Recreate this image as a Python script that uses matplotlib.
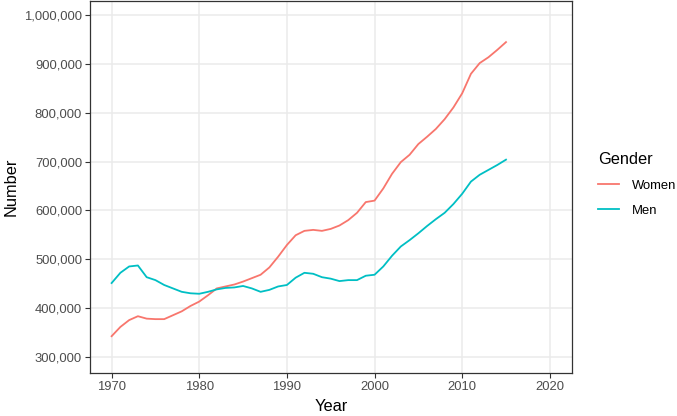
import matplotlib.pyplot as plt
from matplotlib.ticker import FuncFormatter

plt.rcParams['font.family'] = ['Liberation Sans', 'DejaVu Sans']

years = list(range(1970, 2016))
women = [342, 361, 375, 383, 378, 377, 377, 385, 393, 404,
         413, 426, 440, 444, 448, 454, 461, 468, 483, 505,
         529, 549, 558, 560, 558, 562, 569, 580, 595, 617,
         620, 645, 675, 699, 714, 736, 751, 767, 787, 811,
         840, 880, 902, 914, 929, 945]
men = [451, 472, 485, 487, 463, 457, 447, 440, 433, 430,
       429, 433, 438, 441, 442, 445, 440, 433, 437, 444,
       447, 462, 472, 470, 463, 460, 455, 457, 457, 466,
       468, 485, 507, 526, 539, 553, 568, 582, 595, 613,
       634, 659, 673, 683, 693, 704]
series = {"Women": (women, "#F8766D"), "Men": (men, "#00BFC4")}

xticks = [1970, 1980, 1990, 2000, 2010, 2020]
yticks = list(range(300000, 1000001, 100000))

fig = plt.figure(figsize=(6.77, 4.16), dpi=100)
ax = fig.add_axes([0.1325, 0.1026, 0.712, 0.8957])

for name, (vals, col) in series.items():
    ax.plot(years, [v * 1000 for v in vals], color=col, lw=1.3, label=name)

ax.set_xlim(1967.5, 2022.5)
ax.set_ylim(265900, 1029900)
ax.set_xticks(xticks)
ax.set_yticks(yticks)
ax.yaxis.set_major_formatter(FuncFormatter(lambda v, p: f"{int(v):,}"))
ax.grid(True, color="#EBEBEB", lw=1.1)
ax.set_axisbelow(True)
for s in ax.spines.values():
    s.set_color("#333333")
    s.set_linewidth(0.9)
ax.tick_params(colors="#333333", length=3.3, width=0.8, labelsize=9.4,
               labelcolor="#4D4D4D", pad=2.2)
ax.set_xlabel("Year", fontsize=11.8, labelpad=4)
ax.set_ylabel("Number", fontsize=11.8, labelpad=4)

# legend to the right, ggplot style
leg = ax.legend(title="Gender", loc="upper left", bbox_to_anchor=(0.8703, 0.656),
                bbox_transform=fig.transFigure, frameon=False, fontsize=9.4,
                title_fontsize=11.8, handlelength=1.6, handletextpad=1.05,
                labelspacing=1.0, alignment="left", borderpad=0.65, borderaxespad=0)

fig.savefig("out.png", dpi=100)
